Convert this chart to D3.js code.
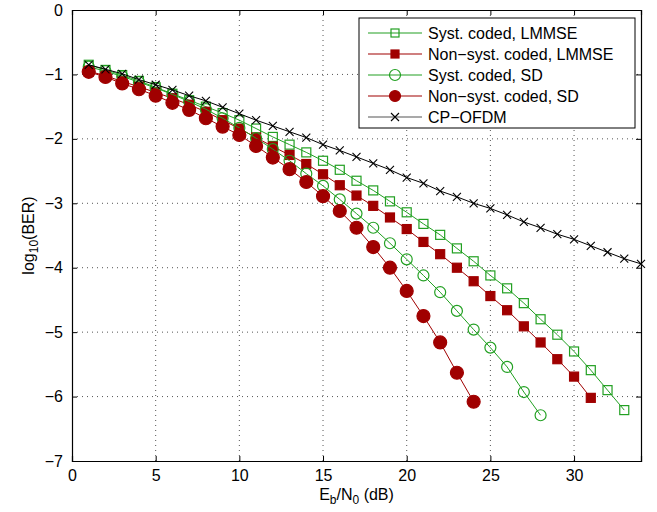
<!DOCTYPE html>
<html>
<head>
<meta charset="utf-8">
<script src="https://cdn.jsdelivr.net/npm/d3@7"></script>
<style>
  body { margin: 0; background: #fff; }
  text { font-family: "Liberation Sans", Arial, sans-serif; }
</style>
</head>
<body>
<svg id="chart" width="657" height="512"></svg>
<script>
// Eb/N0 values (dB) and log10(BER)
const snrCP = d3.range(1, 35);
const cpOfdm = [-0.85, -0.92, -0.99, -1.08, -1.16, -1.24, -1.33, -1.41, -1.51, -1.61,
  -1.71, -1.80, -1.89, -1.98, -2.09, -2.18, -2.28, -2.38, -2.48, -2.60,
  -2.69, -2.81, -2.90, -3.00, -3.08, -3.18, -3.29, -3.38, -3.48, -3.56,
  -3.66, -3.76, -3.86, -3.94];

const snrSystLmmse = d3.range(1, 34);
const systLmmse = [-0.85, -0.93, -1.01, -1.10, -1.20, -1.30, -1.40, -1.50, -1.60, -1.71,
  -1.84, -1.97, -2.09, -2.21, -2.34, -2.48, -2.65, -2.80, -2.97, -3.14,
  -3.32, -3.49, -3.70, -3.90, -4.12, -4.32, -4.55, -4.80, -5.04, -5.30,
  -5.59, -5.90, -6.21];

const snrNonLmmse = d3.range(1, 32);
const nonLmmse = [-0.95, -1.02, -1.11, -1.19, -1.28, -1.37, -1.47, -1.58, -1.71, -1.84,
  -1.98, -2.12, -2.25, -2.39, -2.55, -2.72, -2.88, -3.04, -3.22, -3.40,
  -3.60, -3.79, -4.00, -4.21, -4.44, -4.66, -4.91, -5.16, -5.42, -5.69,
  -6.02];

const snrSystSd = d3.range(1, 29);
const systSd = [-0.88, -0.95, -1.03, -1.12, -1.21, -1.31, -1.42, -1.54, -1.68, -1.83,
  -1.99, -2.16, -2.34, -2.54, -2.73, -2.94, -3.16, -3.38, -3.62, -3.87,
  -4.12, -4.38, -4.67, -4.96, -5.24, -5.54, -5.93, -6.29];

const snrNonSd = d3.range(1, 25);
const nonSd = [-0.96, -1.04, -1.14, -1.23, -1.33, -1.44, -1.55, -1.68, -1.81, -1.94,
  -2.11, -2.29, -2.47, -2.67, -2.89, -3.12, -3.38, -3.68, -4.00, -4.36,
  -4.75, -5.16, -5.63, -6.08];

const xTicks = [0, 5, 10, 15, 20, 25, 30];
const yTicks = [0, -1, -2, -3, -4, -5, -6, -7];

const green = "#22a022";
const red = "#a00000";

const series = [
  { name: "Syst. coded, LMMSE", x: snrSystLmmse, y: systLmmse, color: green, marker: "square", fill: "none" },
  { name: "Non\u2212syst. coded, LMMSE", x: snrNonLmmse, y: nonLmmse, color: red, marker: "square", fill: red },
  { name: "Syst. coded, SD", x: snrSystSd, y: systSd, color: green, marker: "circle", fill: "none" },
  { name: "Non\u2212syst. coded, SD", x: snrNonSd, y: nonSd, color: red, marker: "circle", fill: red },
  { name: "CP\u2212OFDM", x: snrCP, y: cpOfdm, color: "#000", marker: "cross", fill: "none" }
];

const svg = d3.select("#chart");
const margin = { left: 72, right: 16, top: 10, bottom: 51 };
const W = 657, H = 512;

const x = d3.scaleLinear().domain([0, 34]).range([margin.left, W - margin.right]);
const y = d3.scaleLinear().domain([-7, 0]).range([H - margin.bottom, margin.top]);

// dotted grid
const grid = svg.append("g");
grid.selectAll(".gx").data(xTicks.slice(1))
  .join("line")
  .attr("x1", d => x(d)).attr("x2", d => x(d))
  .attr("y1", y(0)).attr("y2", y(-7))
  .attr("stroke", "#555").attr("stroke-width", 1)
  .attr("stroke-dasharray", "1,4");
grid.selectAll(".gy").data(yTicks.slice(1, -1))
  .join("line")
  .attr("x1", x(0)).attr("x2", x(34))
  .attr("y1", d => y(d)).attr("y2", d => y(d))
  .attr("stroke", "#555").attr("stroke-width", 1)
  .attr("stroke-dasharray", "1,4");

// axes with inward ticks
const fmt = d => (d < 0 ? "\u2212" + Math.abs(d) : d);
const xAxis = svg.append("g")
  .attr("transform", `translate(0,${y(-7)})`)
  .call(d3.axisBottom(x).tickValues(xTicks).tickSize(-5).tickPadding(9).tickFormat(fmt));
const xAxisTop = svg.append("g")
  .attr("transform", `translate(0,${y(0)})`)
  .call(d3.axisTop(x).tickValues(xTicks).tickSize(-5).tickFormat(""));
const yAxis = svg.append("g")
  .attr("transform", `translate(${x(0)},0)`)
  .call(d3.axisLeft(y).tickValues(yTicks).tickSize(-5).tickPadding(9).tickFormat(fmt));
const yAxisRight = svg.append("g")
  .attr("transform", `translate(${x(34)},0)`)
  .call(d3.axisRight(y).tickValues(yTicks).tickSize(-5).tickFormat(""));

[xAxis, xAxisTop, yAxis, yAxisRight].forEach(a => {
  a.select(".domain").attr("stroke", "#000").attr("stroke-width", 1.2);
  a.selectAll(".tick line").attr("stroke", "#000");
  a.selectAll("text").attr("font-size", 16).attr("fill", "#000")
    .attr("font-family", "Liberation Sans, Arial, sans-serif");
});

// marker drawing helper
function drawMarker(g, m, color, fill, size) {
  if (m === "square") {
    const s = size || 9;
    g.append("rect").attr("x", -s / 2).attr("y", -s / 2).attr("width", s).attr("height", s)
      .attr("fill", fill).attr("stroke", color).attr("stroke-width", 1.2);
  } else if (m === "circle") {
    const r = fill === "none" ? (size || 5.5) : (size || 6.5);
    g.append("circle").attr("r", r)
      .attr("fill", fill).attr("stroke", color).attr("stroke-width", 1.2);
  } else {
    const s = 4;
    g.append("path").attr("d", `M${-s},${-s}L${s},${s}M${-s},${s}L${s},${-s}`)
      .attr("stroke", color).attr("stroke-width", 1.1);
  }
}

const line = d3.line().x(d => x(d[0])).y(d => y(d[1]));
const plot = svg.append("g");

series.forEach(s => {
  const pts = s.x.map((v, i) => [v, s.y[i]]);
  plot.append("path").datum(pts)
    .attr("d", line).attr("fill", "none")
    .attr("stroke", s.color).attr("stroke-width", 1);
  plot.selectAll(null).data(pts).join("g")
    .attr("transform", d => `translate(${x(d[0])},${y(d[1])})`)
    .each(function () { drawMarker(d3.select(this), s.marker, s.color, s.fill); });
});

// legend
const lg = svg.append("g").attr("transform", "translate(359,18)");
lg.append("rect").attr("width", 276).attr("height", 110)
  .attr("fill", "#fff").attr("stroke", "#000").attr("stroke-width", 1);
series.forEach((s, i) => {
  const row = lg.append("g").attr("transform", `translate(0,${15 + i * 21})`);
  row.append("line").attr("x1", 9).attr("x2", 63)
    .attr("stroke", s.marker === "cross" ? "#555" : s.color).attr("stroke-width", 1.2);
  const mg = row.append("g").attr("transform", "translate(36,0)");
  drawMarker(mg, s.marker, s.color, s.fill, s.marker === "square" ? 8 : 5.5);
  row.append("text").attr("x", 69).attr("y", 6)
    .attr("font-size", 16).attr("textLength", null).text(s.name);
});

// axis labels
const xl = svg.append("text").attr("x", x(17)).attr("y", 500)
  .attr("text-anchor", "middle").attr("font-size", 16);
xl.append("tspan").text("E");
xl.append("tspan").attr("font-size", 12).attr("dy", 4).text("b");
xl.append("tspan").attr("dy", -4).text("/N");
xl.append("tspan").attr("font-size", 12).attr("dy", 4).text("0");
xl.append("tspan").attr("dy", -4).text(" (dB)");

const yl = svg.append("text")
  .attr("transform", `translate(34,${y(-3.5)}) rotate(-90)`)
  .attr("text-anchor", "middle").attr("font-size", 16);
yl.append("tspan").text("log");
yl.append("tspan").attr("font-size", 12).attr("dy", 4).text("10");
yl.append("tspan").attr("dy", -4).text("(BER)");
</script>
</body>
</html>
